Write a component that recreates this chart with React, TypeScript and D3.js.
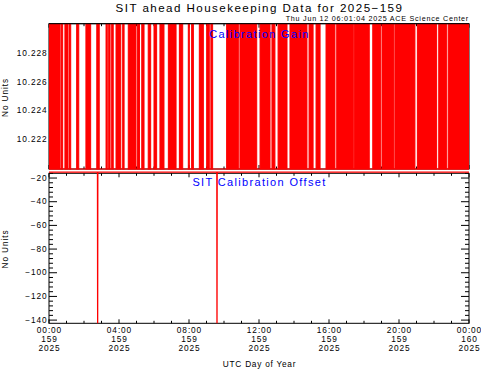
import React from 'react';
import * as d3 from 'd3';

// hours of day 159 where the calibration gain flips rapidly between its two levels
const gainBandStart = [0, 0.69, 0.91, 1.17, 1.58, 2.11, 2.73, 3.26, 3.41, 3.58, 3.83, 4.21, 4.53, 5.05, 5.3, 5.67, 6.0, 6.34, 6.82, 7.45, 7.96, 8.15, 8.59, 9.01, 9.25, 10.15, 10.91, 12.06, 12.74, 13.09, 13.77, 14.86, 15.26, 15.83, 16.44, 17.45, 18.5, 19.03, 19.77, 21.05, 22.27, 22.82];
const gainBandEnd = [0.63, 0.78, 1.09, 1.24, 1.7, 2.38, 2.87, 3.33, 3.49, 3.67, 4.1, 4.29, 4.97, 5.17, 5.43, 5.81, 6.15, 6.57, 7.26, 7.64, 8.02, 8.25, 8.82, 9.16, 9.35, 10.82, 11.87, 12.63, 12.91, 13.6, 14.74, 15.09, 15.49, 16.34, 17.39, 18.3, 18.95, 19.71, 20.91, 22.15, 22.73, 24];
const gainLevels = [10.2199, 10.2305];

const offsetHours = [0, 2.77, 2.78, 2.79, 9.59, 9.6, 9.61, 24];
const offsetValues = [-15, -15, -150, -15, -15, -150, -15, -15];

const gainTicks = [10.222, 10.224, 10.226, 10.228];
const offsetTicks = [-140, -120, -100, -80, -60, -40, -20];
const hourTicks = [0, 4, 8, 12, 16, 20, 24];
const timeLabels = ['00:00', '04:00', '08:00', '12:00', '16:00', '20:00', '00:00'];
const dayLabels = ['159', '159', '159', '159', '159', '159', '160'];
const yearLabels = ['2025', '2025', '2025', '2025', '2025', '2025', '2025'];

const W = 481, H = 371;
const left = 49, right = 469;
const top1 = 23.7, bot1 = 169;
const top2 = 173.3, bot2 = 323.3;
const font = '"Liberation Sans", Arial, sans-serif';
const red = '#ff0000';
const blue = '#0000ff';

const x = d3.scaleLinear().domain([0, 24]).range([left, right]);
const yGain = d3.scaleLinear().domain([10.2199, 10.2301]).range([bot1, top1]);
const yOff = d3.scaleLinear().domain([-142.7, -16]).range([bot2, top2]);

const Label = ({ children, ...rest }) => (
  <text fontFamily={font} fontSize={8.3} letterSpacing={0.9} fill="#000" stroke="none" {...rest}>{children}</text>
);

const Frame = ({ y, top, bottom, majors, minors, fmt, showX }) => {
  const hourMinor = d3.range(0, 25, 1);
  return (
    <g stroke="#000" strokeWidth={1} fill="none">
      <rect x={left} y={top} width={right - left} height={bottom - top} />
      {hourMinor.map(h => {
        const len = h % 4 === 0 ? 4 : 2.5;
        return (
          <g key={'xt' + h}>
            <line x1={x(h)} x2={x(h)} y1={bottom} y2={bottom - len} />
            <line x1={x(h)} x2={x(h)} y1={top} y2={top + len} />
          </g>
        );
      })}
      {minors.map((v, i) => (
        <g key={'ym' + i}>
          <line x1={left} x2={left + 4} y1={y(v)} y2={y(v)} />
          <line x1={right} x2={right - 4} y1={y(v)} y2={y(v)} />
        </g>
      ))}
      {majors.map(v => (
        <g key={'yt' + v}>
          <line x1={left} x2={left + 8} y1={y(v)} y2={y(v)} />
          <line x1={right} x2={right - 8} y1={y(v)} y2={y(v)} />
          <Label x={47.5} y={y(v) + 2.7} textAnchor="end">{fmt(v)}</Label>
        </g>
      ))}
      {showX && hourTicks.map((h, i) => (
        <Label key={'xl' + i} x={x(h) + 0.5} y={bottom + 9.7} textAnchor="middle">
          <tspan x={x(h) + 0.5} dy={0}>{timeLabels[i]}</tspan>
          <tspan x={x(h) + 0.5} dy={8.8}>{dayLabels[i]}</tspan>
          <tspan x={x(h) + 0.5} dy={8.8}>{yearLabels[i]}</tspan>
        </Label>
      ))}
    </g>
  );
};

export default function App() {
  const gainMinor = d3.range(10.2200, 10.2301, 0.0005).filter(v => !gainTicks.some(t => Math.abs(t - v) < 1e-6));
  const offMinor = d3.range(-140, -15, 4).filter(v => v % 20 !== 0);
  const offLine = d3.line<number>().x((_, i) => x(offsetHours[i])).y(v => yOff(v));

  return (
    <svg width={W} height={H} style={{ position: 'absolute', left: 0, top: 0, background: '#fff' }}>
      <defs>
        <clipPath id="c1"><rect x={left} y={top1} width={right - left} height={bot1 - top1 + 1} /></clipPath>
        <clipPath id="c2"><rect x={left} y={top2 - 3} width={right - left} height={bot2 - top2 + 3} /></clipPath>
      </defs>
      <text x={259.5} y={11.5} textAnchor="middle" fontSize={11.6} letterSpacing={1.44} fontFamily={font}>SIT ahead Housekeeping Data for 2025−159</text>
      <text x={469} y={21} textAnchor="end" fontSize={7.2} letterSpacing={0.74} fontFamily={font}>Thu Jun 12 06:01:04 2025 ACE Science Center</text>

      <Frame y={yGain} top={top1} bottom={bot1} majors={gainTicks} minors={gainMinor} fmt={d3.format('.3f')} showX={false} />
      <g clipPath="url(#c1)">
        {gainBandStart.map((s, i) => (
          <rect key={i} x={x(s)} width={Math.max(0.5, x(gainBandEnd[i]) - x(s))}
            y={yGain(gainLevels[1])} height={yGain(gainLevels[0]) - yGain(gainLevels[1])}
            fill={red} stroke={red} strokeWidth={1} />
        ))}
        <line x1={x(0)} x2={x(24)} y1={yGain(gainLevels[0])} y2={yGain(gainLevels[0])} stroke={red} strokeWidth={1.2} />
      </g>
      <line x1={left} x2={right} y1={top1} y2={top1} stroke="#000" />
      <text x={259.5} y={37.5} textAnchor="middle" fontSize={11} letterSpacing={1.34} fill={blue} fontFamily={font}>Calibration Gain</text>
      <Label transform={`translate(8,97.5) rotate(-90)`} textAnchor="middle">No Units</Label>

      <Frame y={yOff} top={top2} bottom={bot2} majors={offsetTicks} minors={offMinor} fmt={d3.format('d')} showX={true} />
      <g clipPath="url(#c2)">
        <path d={offLine(offsetValues) || ''} fill="none" stroke={red} strokeWidth={1.3} />
      </g>
      <text x={259.5} y={186} textAnchor="middle" fontSize={11} letterSpacing={1.34} fill={blue} fontFamily={font}>SIT Calibration Offset</text>
      <Label transform={`translate(8,249) rotate(-90)`} textAnchor="middle">No Units</Label>
      <Label x={259.5} y={366.5} textAnchor="middle" letterSpacing={0.74}>UTC Day of Year</Label>
    </svg>
  );
}
